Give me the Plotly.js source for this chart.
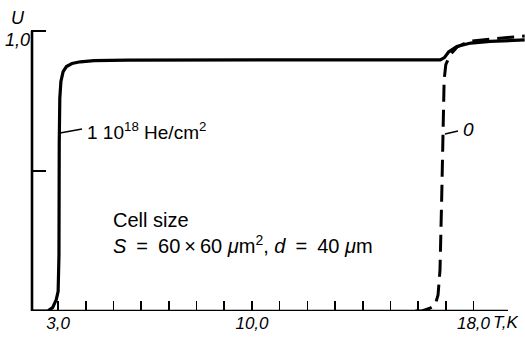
<!DOCTYPE html>
<html>
<head>
<meta charset="utf-8">
<script src="https://cdn.plot.ly/plotly-3.0.1.min.js"></script>
<style>html,body{margin:0;padding:0;background:#fff;}#chart{width:525px;height:338px;}</style>
</head>
<body>
<div id="chart"></div>
<script>
// Data
const solidT = [2.0, 2.62, 2.8, 2.93, 3.0, 3.03, 3.04, 3.06, 3.1, 3.18, 3.3, 3.5, 3.8, 4.3, 5.5, 8.0, 10.0, 12.0, 14.0, 16.0, 16.8, 16.95, 17.1, 17.4, 17.9, 18.6, 19.85];
const solidU = [0, 0, 0.012, 0.04, 0.07, 0.2, 0.6, 0.76, 0.82, 0.855, 0.873, 0.884, 0.89, 0.894, 0.896, 0.897, 0.897, 0.897, 0.897, 0.897, 0.897, 0.905, 0.925, 0.945, 0.957, 0.963, 0.968];
const dashT = [15.9, 16.14, 16.43, 16.61, 16.72, 16.79, 16.85, 16.9, 16.94, 17.0, 17.15, 17.41, 17.88, 18.6, 19.85];
const dashU = [0, 0, 0.01, 0.02, 0.057, 0.146, 0.396, 0.68, 0.825, 0.88, 0.914, 0.943, 0.964, 0.971, 0.982];
const xTickVals = [3,4,5,6,7,8,9,10,11,12,13,14,15,16,17,18];
const xTickText = ['3,0','','','','','','','10,0','','','','','','','','18,0'];
const yTickVals = [0.5, 1.0];
const yTickText = ['', '1,0'];
const solidLabel = '1 10<sup>18</sup> He/cm<sup>2</sup>';
const dashLabel = '0';
const noteLine1 = 'Cell size';
const noteLine2 = '<i>S</i>\u2002=\u200260\u2009×\u200960 <i>μ</i>m<sup>2</sup>, <i>d</i>\u2002=\u200240 <i>μ</i>m';

const L = 31, T = 3, W = 494, H = 308;
const px = x => (x - L) / W;
const py = y => (T + H - y) / H;
const font = 'Liberation Sans, Arial, sans-serif';

const traces = [
  {x: solidT, y: solidU, mode: 'lines', line: {color: '#000', width: 3.2}, hoverinfo: 'skip'},
  {x: dashT, y: dashU, mode: 'lines', line: {color: '#000', width: 3, dash: '17px,8px'}, hoverinfo: 'skip'}
];

function ann(text, x, y, size, italic, xanchor) {
  return {text: text, xref: 'paper', yref: 'paper', x: px(x), y: py(y),
    xanchor: xanchor || 'left', yanchor: 'middle', showarrow: false,
    font: {family: font, size: size, color: '#000', style: italic ? 'italic' : 'normal'}};
}

const layout = {
  width: 525, height: 338,
  margin: {l: L, r: 0, t: T, b: 338 - T - H},
  paper_bgcolor: '#fff', plot_bgcolor: '#fff',
  showlegend: false,
  xaxis: {
    range: [2.02, 19.86], showline: false, showgrid: false, zeroline: false,
    tickmode: 'array', tickvals: xTickVals, ticktext: xTickText,
    ticks: 'inside', ticklen: 10, tickwidth: 1.6, tickcolor: '#000',
    tickfont: {family: font, size: 17, color: '#000', style: 'italic'}
  },
  yaxis: {
    range: [0, 1.1], showline: false, showgrid: false, zeroline: false,
    tickmode: 'array', tickvals: yTickVals, ticktext: yTickText,
    ticks: 'inside', ticklen: 15, tickwidth: 1.6, tickcolor: '#000',
    ticklabelshift: 9,
    tickfont: {family: font, size: 18, color: '#000', style: 'italic'}
  },
  shapes: [
    {type: 'line', xref: 'paper', yref: 'y', x0: 0, x1: px(508), y0: 0, y1: 0, line: {color: '#000', width: 2.6}},
    {type: 'line', xref: 'paper', yref: 'y', x0: px(32), x1: px(32), y0: 0, y1: 1.0, line: {color: '#000', width: 2.6}},
    {type: 'line', xref: 'paper', yref: 'paper', x0: px(60), x1: px(82), y0: py(133), y1: py(129), line: {color: '#000', width: 1.5}},
    {type: 'line', xref: 'paper', yref: 'paper', x0: px(445), x1: px(458), y0: py(134), y1: py(131), line: {color: '#000', width: 1.5}}
  ],
  annotations: [
    ann('U', 18, 18, 18, true, 'center'),
    ann('T,K', 491, 322, 17, true, 'left'),
    ann(solidLabel, 85, 131, 19, false, 'left'),
    ann(dashLabel, 461, 129, 19, true, 'left'),
    ann(noteLine1, 111, 220, 20, false, 'left'),
    ann(noteLine2, 111, 244, 20, false, 'left')
  ]
};

Plotly.newPlot('chart', traces, layout, {displayModeBar: false, staticPlot: true});
</script>
</body>
</html>
